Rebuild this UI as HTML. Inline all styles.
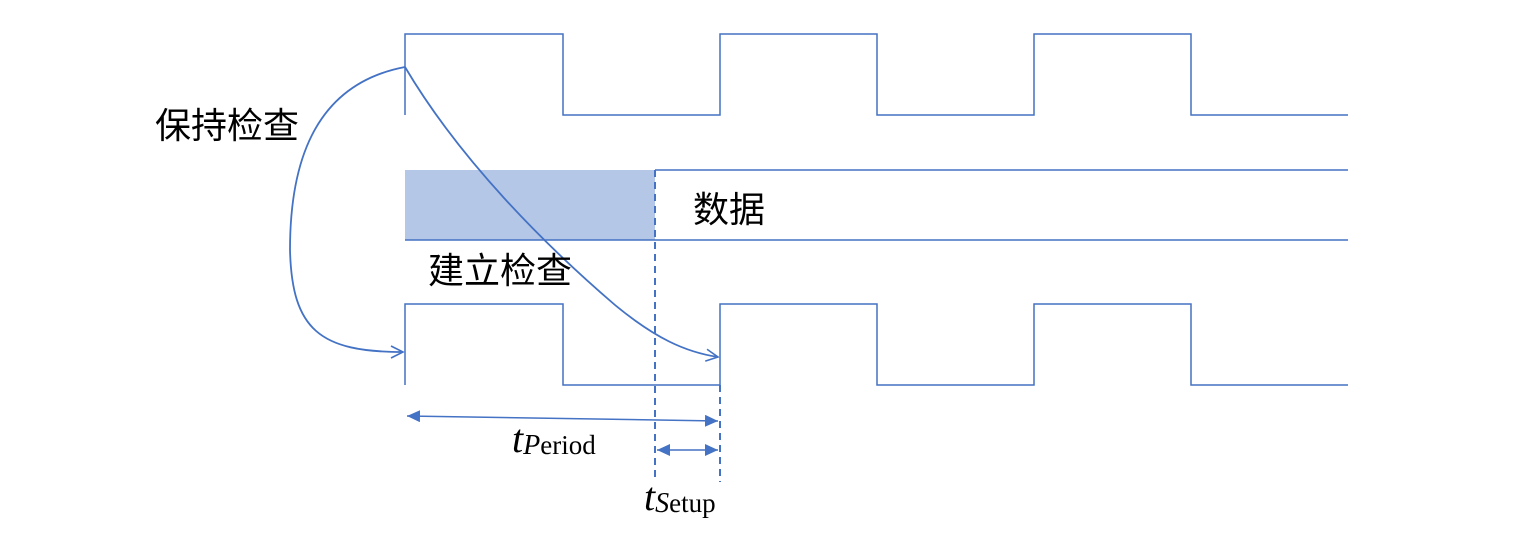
<!DOCTYPE html>
<html><head><meta charset="utf-8"><style>
html,body{margin:0;padding:0;background:#fff;}
svg{display:block;}
.cn{font-family:"Liberation Sans","Noto Sans CJK SC",sans-serif;font-size:36px;fill:#000;}
.m{font-family:"Liberation Serif","DejaVu Serif",serif;fill:#000;}
</style></head><body>
<svg width="1537" height="547" viewBox="0 0 1537 547" xmlns="http://www.w3.org/2000/svg">
<defs>
<marker id="op" markerWidth="16" markerHeight="16" refX="14" refY="8" orient="auto" markerUnits="userSpaceOnUse">
<path d="M2,2 L14,8 L2,14" fill="none" stroke="#4472c4" stroke-width="1.6"/></marker>
<marker id="fe" markerWidth="14" markerHeight="12" refX="13" refY="6" orient="auto" markerUnits="userSpaceOnUse">
<path d="M0,0 L13,6 L0,12 z" fill="#4472c4"/></marker>
<marker id="fs" markerWidth="14" markerHeight="12" refX="1" refY="6" orient="auto" markerUnits="userSpaceOnUse">
<path d="M14,0 L1,6 L14,12 z" fill="#4472c4"/></marker>
</defs>
<g fill="none" stroke="#4472c4" stroke-width="1.5">
<path d="M405,115 V34 H563 V115 H720 V34 H877 V115 H1034 V34 H1191 V115 H1348"/>
<path d="M405,385 V304 H563 V385 H720 V304 H877 V385 H1034 V304 H1191 V385 H1348"/>
</g>
<rect x="405" y="170" width="250" height="70" fill="#b4c7e7"/>
<g fill="none" stroke="#4472c4" stroke-width="1.5">
<path d="M655,170 H1348 M405,240 H1348"/>
<path d="M655,170 V482" stroke-dasharray="7,5" stroke-width="2"/>
<path d="M720,385 V482" stroke-dasharray="7,5" stroke-width="2"/>
<path d="M405,67 C310,85 290,170 290,250 C292,330 320,352 403,352" stroke-width="1.8" marker-end="url(#op)"/>
<path d="M405,67 C460,160 545,245 615,305 C655,338 685,352 718,357" stroke-width="1.8" marker-end="url(#op)"/>
<line x1="407" y1="416" x2="718" y2="421" marker-start="url(#fs)" marker-end="url(#fe)"/>
<line x1="657" y1="450" x2="718" y2="450" marker-start="url(#fs)" marker-end="url(#fe)"/>
</g>
<text class="cn" x="155" y="138">保持检查</text>
<text class="cn" x="693" y="222">数据</text>
<text class="cn" x="428" y="283">建立检查</text>
<text class="m" x="512" y="452"><tspan font-size="40" font-style="italic">t</tspan><tspan font-size="28" font-style="italic" dy="2">P</tspan><tspan font-size="27">eriod</tspan></text>
<text class="m" x="644" y="510"><tspan font-size="40" font-style="italic">t</tspan><tspan font-size="28" font-style="italic" dy="2">S</tspan><tspan font-size="27">etup</tspan></text>
</svg>
</body></html>
